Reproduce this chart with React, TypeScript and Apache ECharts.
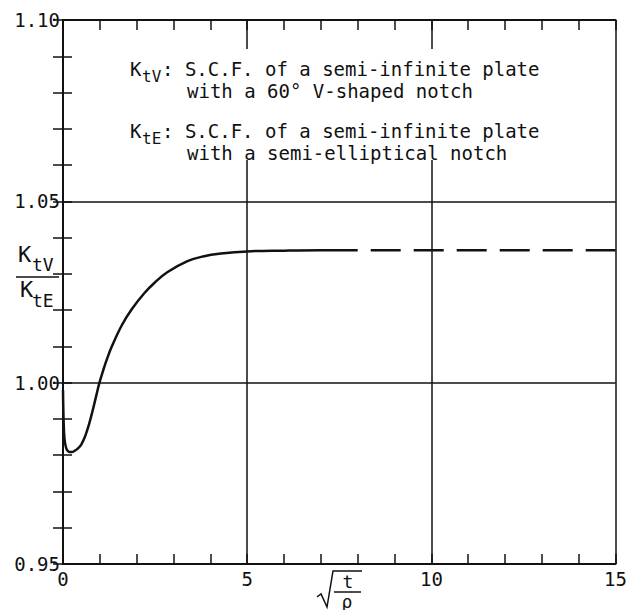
import React, { useEffect, useRef } from "react";
import * as echarts from "echarts";

// sqrt(t/rho) positions and K_tV / K_tE values of the computed curve
const curveX = [0, 0.015, 0.04, 0.08, 0.12, 0.18, 0.24, 0.3, 0.4, 0.5, 0.6, 0.7, 0.8, 0.9, 0.99, 1.1, 1.2, 1.33, 1.6, 1.87, 2.2, 2.5, 2.84, 3.38, 3.8, 4.29, 5.0, 6.0, 7.0, 8.0];
const curveY = [0.998, 0.99, 0.9845, 0.9822, 0.9813, 0.9809, 0.9809, 0.9811, 0.9818, 0.983, 0.9852, 0.9883, 0.9921, 0.9963, 1.0, 1.0037, 1.0067, 1.0101, 1.0159, 1.0203, 1.0246, 1.0277, 1.0305, 1.0335, 1.0348, 1.0356, 1.0362, 1.0364, 1.0365, 1.0365];

// asymptotic (extrapolated) part
const asymX = [8.0, 15.0];
const asymY = [1.0365, 1.0365];

const xTicks = [0, 5, 10, 15];
const yTickLabels = ["0.95", "1.00", "1.05", "1.10"];

const legendLines = [
  { sub: "tV", rest: ": S.C.F. of a semi-infinite plate", cont: "with a 60° V-shaped notch" },
  { sub: "tE", rest: ": S.C.F. of a semi-infinite plate", cont: "with a semi-elliptical notch" },
];

const FONT = '"DejaVu Sans Mono", monospace';
const INK = "#111";

export default function App() {
  const ref = useRef<HTMLDivElement>(null);

  useEffect(() => {
    if (!ref.current) return;
    const chart = echarts.init(ref.current, undefined, { renderer: "svg" });

    const axisLine = { show: true, lineStyle: { color: INK, width: 2 } };
    const tickStyle = { color: INK, width: 1.5 };

    const txt = (text: string, x: number, y: number, size: number, align = "left") => ({
      type: "text",
      x,
      y,
      z: 20,
      style: {
        text,
        fill: INK,
        font: `${size}px ${FONT}`,
        align,
        verticalAlign: "middle",
      },
    });

    const graphics: any[] = [
      {
        type: "rect",
        z: 10,
        shape: { x: 115, y: 49, width: 442, height: 111 },
        style: { fill: "#fff" },
      },
    ];
    const rows = [69, 131];
    legendLines.forEach((l, i) => {
      const y = rows[i];
      graphics.push(txt("K", 130, y, 19));
      graphics.push(txt(l.sub, 142, y + 7, 16));
      graphics.push(txt(l.rest, 162, y, 19));
      graphics.push(txt(l.cont, 187, y + 22, 19));
    });

    // y-axis title: K_tV over K_tE
    graphics.push(txt("K", 18, 254, 22));
    graphics.push(txt("tV", 32, 264, 18));
    graphics.push({
      type: "line",
      z: 20,
      shape: { x1: 16, y1: 277, x2: 59, y2: 277 },
      style: { stroke: INK, lineWidth: 1.5 },
    });
    graphics.push(txt("K", 20, 289, 22));
    graphics.push(txt("tE", 32, 300, 18));

    // x-axis title: sqrt(t / rho)
    graphics.push({
      type: "polyline",
      z: 20,
      shape: { points: [[317, 597], [321, 594], [327, 607], [333, 571], [362, 571]] },
      style: { stroke: INK, lineWidth: 1.5, fill: null },
    });
    graphics.push(txt("t", 348, 581, 18, "center"));
    graphics.push({
      type: "line",
      z: 20,
      shape: { x1: 334, y1: 592, x2: 361, y2: 592 },
      style: { stroke: INK, lineWidth: 1.5 },
    });
    graphics.push(txt("ρ", 347, 601, 18, "center"));

    const yFmt = (v: number) => {
      const s = v.toFixed(2);
      return yTickLabels.includes(s) ? s : "";
    };
    const xFmt = (v: number) => (xTicks.includes(Math.round(v)) ? String(Math.round(v)) : "");

    chart.setOption({
      animation: false,
      backgroundColor: "#fff",
      grid: { left: 63, right: 13, top: 20, bottom: 46 },
      xAxis: [
        {
          type: "value",
          min: 0,
          max: 15,
          interval: 5,
          position: "bottom",
          axisLine,
          axisTick: { show: true, inside: true, length: 10, lineStyle: tickStyle },
          minorTick: { show: true, splitNumber: 5, length: 10, lineStyle: tickStyle },
          axisLabel: { color: INK, fontFamily: FONT, fontSize: 19, margin: 5, formatter: xFmt },
          splitLine: { show: true, lineStyle: { color: INK, width: 1.5 } },
        },
        {
          type: "value",
          min: 0,
          max: 15,
          interval: 5,
          position: "top",
          axisLine,
          axisTick: { show: true, inside: true, length: 10, lineStyle: tickStyle },
          minorTick: { show: true, splitNumber: 5, length: 10, lineStyle: tickStyle },
          axisLabel: { show: false },
          splitLine: { show: false },
        },
      ],
      yAxis: [
        {
          type: "value",
          min: 0.95,
          max: 1.1,
          interval: 0.05,
          position: "left",
          axisLine,
          axisTick: { show: true, inside: true, length: 9, lineStyle: tickStyle },
          minorTick: { show: true, splitNumber: 5, length: 9, lineStyle: tickStyle },
          axisLabel: { color: INK, fontFamily: FONT, fontSize: 19, margin: 3, formatter: yFmt },
          splitLine: { show: true, lineStyle: { color: INK, width: 1.5 } },
        },
        {
          type: "value",
          min: 0.95,
          max: 1.1,
          interval: 0.05,
          position: "right",
          axisLine,
          axisTick: { show: true, inside: true, length: 10, lineStyle: tickStyle },
          minorTick: { show: true, splitNumber: 5, length: 10, lineStyle: tickStyle },
          axisLabel: { show: false },
          splitLine: { show: false },
        },
      ],
      series: [
        {
          type: "line",
          data: curveX.map((x, i) => [x, curveY[i]]),
          showSymbol: false,
          smooth: 0.4,
          lineStyle: { color: INK, width: 2.5 },
          z: 3,
        },
        {
          type: "line",
          data: asymX.map((x, i) => [x, asymY[i]]),
          showSymbol: false,
          lineStyle: { color: INK, width: 2.5, type: [30, 13], dashOffset: 30 },
          z: 3,
        },
      ],
      graphic: graphics,
    });

    return () => chart.dispose();
  }, []);

  return (
    <div
      ref={ref}
      style={{ position: "fixed", left: 0, top: 0, width: 630, height: 610, background: "#fff" }}
    />
  );
}
